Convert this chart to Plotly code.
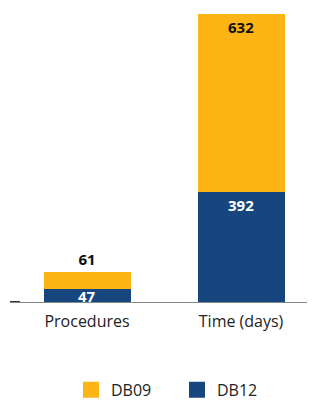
import plotly.graph_objects as go

categories = ["Procedures", "Time (days)"]
db12 = [47, 392]
db09 = [61, 632]
series_names = ["DB12", "DB09"]

YELLOW = "#FDB515"
BLUE = "#17467E"
FONT = "Open Sans"
LABEL_FONT_WHITE = dict(color="white", size=15, family=FONT, weight="bold")
LABEL_FONT_DARK = dict(color="#111111", size=15, family=FONT, weight="bold")

fig = go.Figure()
fig.add_trace(go.Bar(
    x=categories, y=db12, name=series_names[0], marker=dict(color=BLUE, line=dict(width=0)),
    text=[str(v) for v in db12], textposition=["none", "inside"], insidetextanchor="end",
    textangle=0, textfont=LABEL_FONT_WHITE,
    constraintext="none", width=0.565, cliponaxis=False, showlegend=False,
))
fig.add_trace(go.Bar(
    x=categories, y=db09, name=series_names[1], marker=dict(color=YELLOW, line=dict(width=0)),
    text=[str(v) for v in db09], textposition=["outside", "inside"], insidetextanchor="end",
    textangle=0, textfont=LABEL_FONT_DARK,
    constraintext="none", width=0.565, cliponaxis=False, showlegend=False,
))
# label for the short DB12 bar (too short for plotly's inside text)
fig.add_annotation(x=categories[0], y=db12[0], text=str(db12[0]), showarrow=False,
                   yanchor="top", yshift=5, font=LABEL_FONT_WHITE)

# legend entries (large square swatches)
for name, col in [(series_names[1], YELLOW), (series_names[0], BLUE)]:
    fig.add_trace(go.Scatter(
        x=[None], y=[None], mode="markers", name=name,
        marker=dict(symbol="square", size=18, color=col), showlegend=True,
    ))

fig.update_layout(
    barmode="stack",
    width=307, height=394,
    margin=dict(l=2, r=0, t=6, b=100, autoexpand=False),
    paper_bgcolor="white", plot_bgcolor="white",
    showlegend=True,
    legend=dict(orientation="h", traceorder="normal", x=0.2, y=-0.305,
                xanchor="left", yanchor="middle",
                font=dict(size=16, family=FONT, color="#222222"),
                entrywidth=61, entrywidthmode="pixels",
                itemsizing="trace"),
    xaxis=dict(range=[-0.5, 1.48], showline=True, linecolor="#888888", linewidth=1,
               ticks="", ticklabelstandoff=5,
               tickfont=dict(size=16, family=FONT, color="#222222"),
               showgrid=False, zeroline=False),
    yaxis=dict(range=[0, 1024], visible=False, showgrid=False, zeroline=False),
    shapes=[dict(type="line", xref="paper", yref="y", x0=0, x1=0.033, y0=0, y1=0,
                 line=dict(color="#333333", width=2))],
)

fig.write_html("out.html")
